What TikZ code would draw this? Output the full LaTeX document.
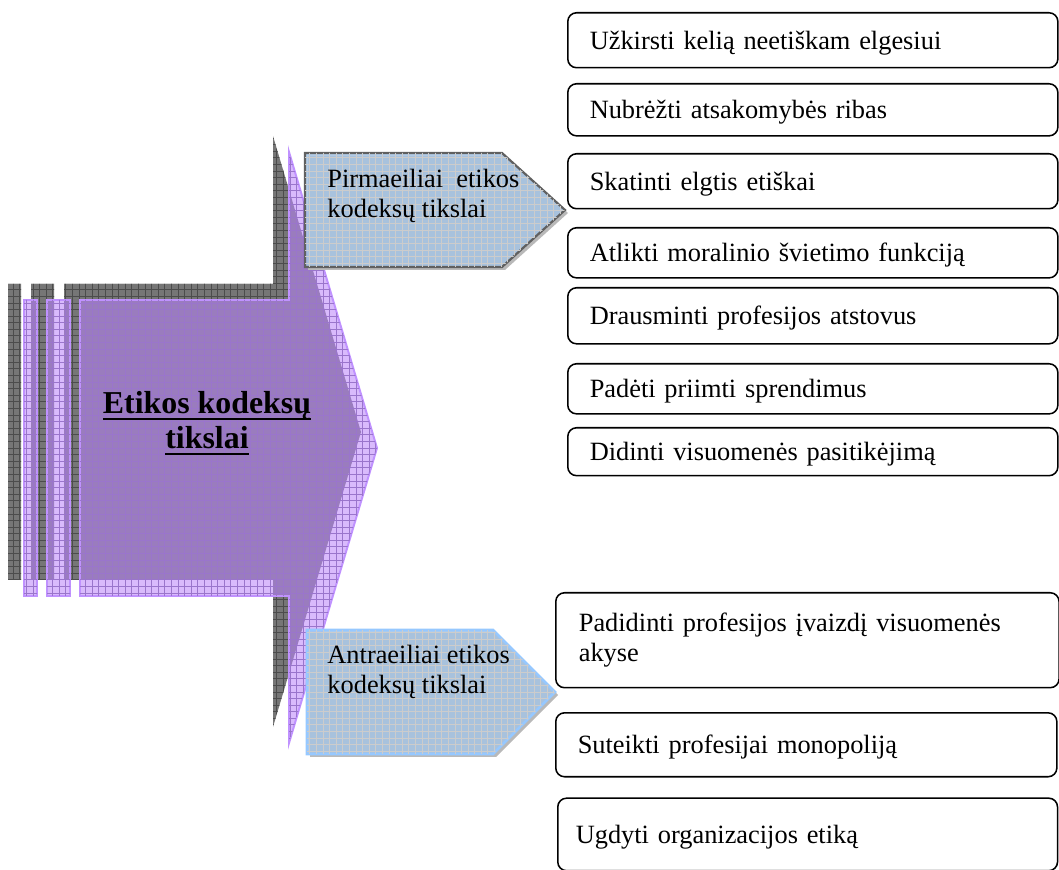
\documentclass[tikz,border=0pt]{standalone}
\usepackage{fontspec}
\setmainfont{Liberation Serif}
\usetikzlibrary{patterns}
\definecolor{lilac}{RGB}{185,130,250}
\definecolor{lilacedge}{RGB}{192,146,255}
\definecolor{shadowgray}{RGB}{118,118,118}
\definecolor{paleblue}{RGB}{166,196,228}
\definecolor{skyedge}{RGB}{150,200,255}
\newcommand{\ulbar}[1]{\setbox0\hbox{#1}\rlap{\rule[-3pt]{\wd0}{0.9pt}}\box0}
\tikzstyle{goal} = [rectangle, rounded corners=4pt, draw=black, line width=0.7pt, anchor=north west, inner xsep=10pt, text width=203pt, align=left, text height=8.5pt, text depth=0.5pt, font=\fontsize{12}{13.7}\selectfont]
\tikzstyle{catname} = [anchor=north west, inner sep=0pt, align=left, font=\fontsize{12}{13.7}\selectfont]
\tikzstyle{bigtitle} = [align=center, inner sep=0pt, font=\fontsize{14.5}{15.9}\selectfont\bfseries]

\begin{document}
\begin{tikzpicture}[x=0.455pt, y=-0.455pt]
\useasboundingbox (0,0) rectangle (1059,870);

% big arrow: shadow, then lilac
\path[fill=shadowgray, postaction={pattern=grid, pattern color=black!70}, shift={(-16,-16)}]
  (24,300) rectangle (37,596) (47,300) rectangle (70,596)
  (80,300) -- (289,300) -- (289,152) -- (377,448) -- (289,743) -- (289,596) -- (80,596) -- cycle;
\path[fill=lilac, fill opacity=0.55, draw=lilacedge, line width=0.9pt, postaction={pattern=grid, pattern color=lilacedge!80!black}]
  (24,300) rectangle (37,596) (47,300) rectangle (70,596)
  (80,300) -- (289,300) -- (289,152) -- (377,448) -- (289,743) -- (289,596) -- (80,596) -- cycle;
\node[bigtitle] (title) at (207,423) {\ulbar{Etikos kodeksų}\\\ulbar{tikslai}};

% pentagons
\fill[gray!55, shift={(3,3)}] (305,153) -- (502,153) -- (565,210) -- (502,267) -- (305,267) -- cycle;
\path[fill=paleblue, fill opacity=0.85, draw=gray!75!black, line width=1pt, postaction={pattern=grid, pattern color=gray!40}]
  (305,153) -- (502,153) -- (565,210) -- (502,267) -- (305,267) -- cycle;
\node[catname] (prim) at (327,169) {Pirmaeiliai\ \ etikos\\kodeksų tikslai};

\fill[gray!55, shift={(3,3)}] (307,630) -- (493,630) -- (555,692) -- (493,754) -- (307,754) -- cycle;
\path[fill=paleblue, fill opacity=0.85, draw=skyedge, line width=1.2pt, postaction={pattern=grid, pattern color=gray!40}]
  (307,630) -- (493,630) -- (555,692) -- (493,754) -- (307,754) -- cycle;
\node[catname] (antr) at (327,645) {Antraeiliai etikos\\kodeksų tikslai};

% first-order goals
\node[goal, minimum height=25pt] (g1) at (567,12) {Užkirsti kelią neetiškam elgesiui};
\node[goal, minimum height=23.7pt] (g2) at (567,83) {Nubrėžti atsakomybės ribas};
\node[goal, minimum height=25pt] (g3) at (567,153) {Skatinti elgtis etiškai};
\node[goal, minimum height=22.8pt] (g4) at (567,227) {Atlikti moralinio švietimo funkciją};
\node[goal, minimum height=25.5pt] (g5) at (567,287) {Drausminti profesijos atstovus};
\node[goal, minimum height=22.8pt] (g6) at (567,363) {Padėti priimti sprendimus};
\node[goal, minimum height=21.8pt] (g7) at (567,427) {Didinti visuomenės pasitikėjimą};

% second-order goals
\node[goal, minimum height=43.2pt, text width=208pt, inner xsep=10.5pt, text height={}, text depth={}] (s1) at (555,592) {Padidinti profesijos įvaizdį visuomenės\\akyse};
\node[goal, minimum height=29.1pt, text width=208pt, yshift=1.8pt] (s2) at (555,716) {Suteikti profesijai monopoliją};
\node[goal, minimum height=33pt, text width=211pt, inner xsep=8.2pt, yshift=3pt] (s3) at (557,804) {Ugdyti organizacijos etiką};

\end{tikzpicture}
\end{document}
